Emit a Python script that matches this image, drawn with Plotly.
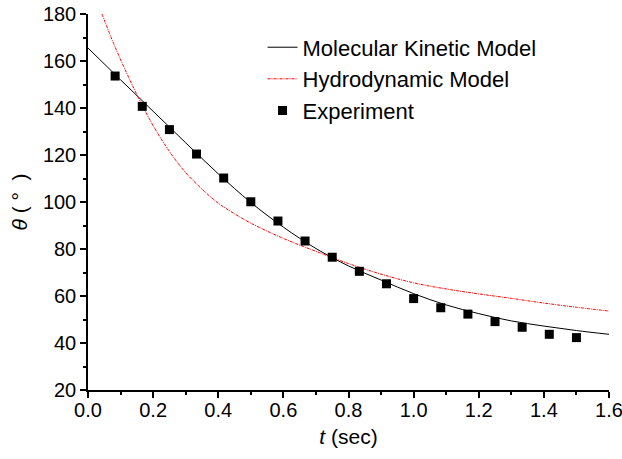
import plotly.graph_objects as go

# Experiment data
exp_t = [1/12, 2/12, 3/12, 4/12, 5/12, 6/12, 7/12, 8/12, 9/12, 10/12,
         11/12, 12/12, 13/12, 14/12, 15/12, 16/12, 17/12, 18/12]
exp_theta = [153.6, 140.7, 130.8, 120.4, 110.2, 100.1, 91.9, 83.4, 76.5, 70.5,
             65.2, 58.9, 55.0, 52.3, 49.1, 46.7, 43.7, 42.3]

# Molecular kinetic model curve
mk_t = [0.0, 0.1, 0.2, 0.3, 0.4, 0.5, 0.6, 0.7, 0.8, 0.9, 1.0,
        1.1, 1.2, 1.3, 1.4, 1.5, 1.6]
mk_theta = [165.5, 152.0, 138.6, 125.2, 112.0, 99.8, 89.3, 80.2, 72.8, 66.8, 61.0,
            56.2, 52.5, 49.4, 47.2, 45.3, 43.7]

# Hydrodynamic model curve
hd_t = [0.043, 0.08, 0.12, 0.154, 0.2, 0.25, 0.3, 0.35, 0.4, 0.45, 0.5,
        0.6, 0.7, 0.8, 0.9, 1.0, 1.1, 1.2, 1.3, 1.4, 1.5, 1.6]
hd_theta = [180.0, 167.0, 154.5, 144.6, 132.5, 121.5, 112.5, 105.5, 99.5, 95.0, 91.0,
            84.5, 79.0, 73.8, 69.3, 65.6, 63.0, 60.9, 59.0, 57.0, 55.2, 53.6]

FONT = "Liberation Sans, Arial, sans-serif"

fig = go.Figure()
fig.add_trace(go.Scatter(x=mk_t, y=mk_theta, mode="lines", name="Molecular Kinetic Model",
                         line=dict(color="black", width=1, shape="spline")))
fig.add_trace(go.Scatter(x=hd_t, y=hd_theta, mode="lines", name="Hydrodynamic Model",
                         line=dict(color="red", width=1, shape="spline", dash="3px,1px,1px,1px")))
fig.add_trace(go.Scatter(x=exp_t, y=exp_theta, mode="markers", name="Experiment",
                         marker=dict(symbol="square", size=9, color="black")))

axis_common = dict(showline=True, linecolor="black", linewidth=1.5, ticks="outside",
                   ticklen=6, tickwidth=1.5, tickcolor="black", showgrid=False, zeroline=False,
                   tickfont=dict(family=FONT, size=20, color="black"), mirror=False,
                   automargin=False, ticklabeloverflow="allow")

fig.update_xaxes(range=[0, 1.6], dtick=0.2, tickformat=".1f", ticklabelstandoff=-5,
                 minor=dict(ticks="outside", ticklen=3, tickwidth=1.5, tickcolor="black", dtick=0.1),
                 title=dict(text="<i>t</i> (sec)", font=dict(family=FONT, size=21, color="black"), standoff=10),
                 **axis_common)
fig.update_yaxes(range=[20, 180], dtick=20,
                 minor=dict(ticks="outside", ticklen=3, tickwidth=1.5, tickcolor="black", dtick=10),
                 title=dict(text="<i>θ</i> ( °  )", font=dict(family=FONT, size=21, color="black"), standoff=10),
                 **axis_common)

fig.update_layout(
    width=622, height=459,
    margin=dict(l=88, r=13, t=14, b=69),
    plot_bgcolor="white", paper_bgcolor="white",
    font=dict(family=FONT, size=20, color="black"),
    legend=dict(x=0.335, y=0.967, xanchor="left", yanchor="top", bgcolor="rgba(0,0,0,0)",
                font=dict(family=FONT, size=22, color="black"), tracegroupgap=0, itemwidth=30),
)

fig.write_html("out.html", config={"displayModeBar": False},
               post_script="document.body.style.margin='0px';")
